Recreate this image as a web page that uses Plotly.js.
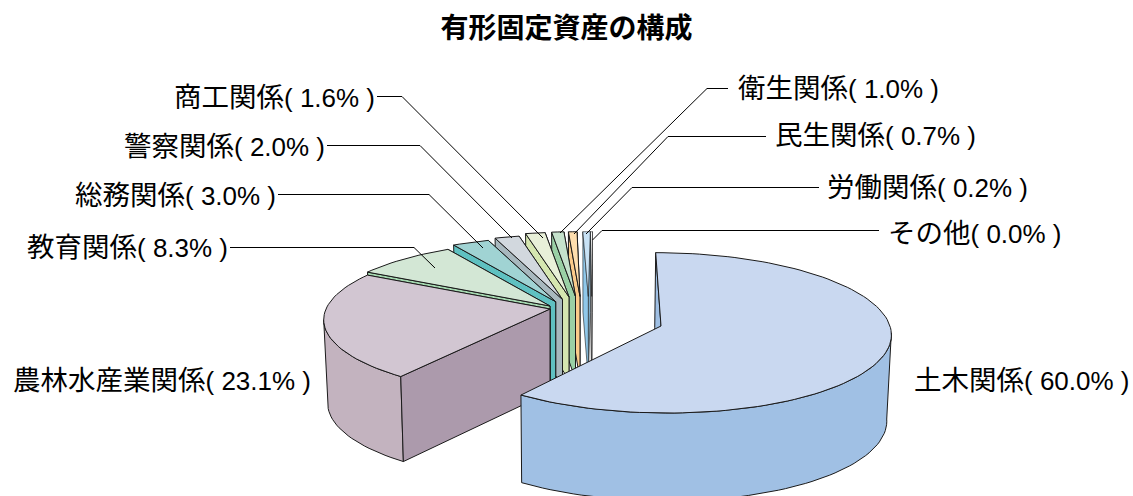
<!DOCTYPE html>
<html><head><meta charset="utf-8">
<script src="https://cdn.plot.ly/plotly-3.0.1.min.js"></script>
<style>html,body{margin:0;padding:0;background:#fff}#c{width:1133px;height:496px}</style>
</head><body><div id="c"></div>
<script>
// ---- data ----
const categories = ['土木関係','農林水産業関係','教育関係','総務関係','警察関係','商工関係','衛生関係','民生関係','労働関係','その他'];
const shares     = [60.0, 23.1, 8.3, 3.0, 2.0, 1.6, 1.0, 0.7, 0.2, 0.04];
const shareText  = ['60.0%','23.1%','8.3%','3.0%','2.0%','1.6%','1.0%','0.7%','0.2%','0.0%'];
// ---- styles ----
const topColors  = ['#C9D8F0','#D2C6D2','#D3E7D5','#A0D3D3','#D2D8DE','#E8F0D8','#C5E2CC','#FFDFAE','#C8E2F5','#FFFFFF'];
const sideColors = ['#A0C0E4','#AC9AAC','#A5D8B0','#5FC1C1','#A8B8BE','#D5E6B0','#9AD0A5','#FBCB8A','#90C8EA','#FFFFFF'];
const rimColor   = '#C3B3BF';
const lineColor  = '#1a1a1a';
const edgeWidth  = [1,1,1,1,1,1,1,1,0.6,0.6];
// ---- 3D pie projection (pixel layout of the tilted pie) ----
const base = {cx:550, cy:309, R:224, Q:74, k:0.1425, shear:0, hMid:83, hBack:2.5, hFront:2.5, shrinkL:0.0175, shrinkR:0.0175};
const big  = {cx:661, cy:326, R:229, Q:79.6, k:0.0855, shear:-5.75, hMid:86, hBack:11, hFront:2, shrinkL:0.005, shrinkR:0.02};
const offX = [0,0,0,5.7,12.5,19,25.5,30,38.3,41.7];
const offY = [0,0,-3,-7.3,-9.5,-12,-12.5,-12.5,-12.5,-12.5];
const widen = [0,0,0,0,0,0,0,0,2.5,0.8];
// ---- labels ----
const labelX = [912,313,230,278,327,377,736,773,825,886];
const labelY = [380,380,247,195,146,97,88,135,187,233];
const labelAnchor = ['left','right','right','right','right','right','left','left','left','left'];
const leaderX = [null,null,[230,414,435],[278,429,483],[327,420,512],[377,402,543],[728,707,560],[766,668,574],[819,632,586],[879,602,592.5]];
const leaderY = [null,null,[247.5,247.5,268],[194.5,194.5,248],[145.5,145.5,238],[96.5,96.5,238],[88.5,88.5,233],[136.5,136.5,234],[187.5,187.5,234],[230.5,230.5,240]];
const labelFont = 'Arial, "Liberation Sans", "Noto Sans CJK JP", sans-serif';

function project(g, thetaDeg, dx, dy){
  const t = thetaDeg*Math.PI/180, s = Math.sin(t), c = Math.cos(t), d = 1+g.k*c;
  return {x: g.cx + dx + (g.R*s + g.shear*c)/d, y: g.cy + dy - g.Q*c/d, c};
}
function drop(g, p, dx){          // same point on the pie's lower face
  const ax = g.cx + dx;
  const sh = p.x > ax ? g.shrinkR : g.shrinkL;
  return {x: p.x + (ax-p.x)*sh - (g===big&&p.c>0?1.0*p.c:0), y: p.y + g.hMid - (p.c>0?g.hBack:g.hFront)*p.c};
}
function poly(pts, fill, w){
  return {type:'scatter', mode:'lines', x:pts.map(p=>p.x).concat(pts[0].x), y:pts.map(p=>p.y).concat(pts[0].y),
    fill:'toself', fillcolor:fill, line:{color:lineColor,width:w}, hoverinfo:'skip', showlegend:false};
}
function arcPoints(g, a0, a1, dx, dy){
  const n = Math.max(2, Math.ceil((a1-a0)/2)), pts = [];
  for(let j=0;j<=n;j++) pts.push(project(g, a0+(a1-a0)*j/n, dx, dy));
  return pts;
}
const total = shares.reduce((a,b)=>a+b,0);
const starts = []; let run = 0;
shares.forEach(v=>{ starts.push(run/total*360); run += v; });

const traces = [];
function addSlice(i){
  const g = i===0 ? big : base, dx = i===0?0:offX[i], dy = i===0?0:offY[i], w = edgeWidth[i];
  const a0 = starts[i], a1 = starts[i]+shares[i]/total*360;
  const arc = arcPoints(g, a0, a1, dx, dy);
  if(widen[i]){ arc[0].x -= widen[i]; arc[arc.length-1].x += widen[i]; }
  const apex = {x:g.cx+dx, y:g.cy+dy, c:0};
  const apexB = drop(g, apex, dx);
  // outer wall: only the part that faces the viewer
  const silhouette = Math.asin(g.k)*180/Math.PI;
  const v0 = Math.max(a0, 90+silhouette), v1 = Math.min(a1, 270-silhouette);
  if(v1 > v0){
    const vis = arcPoints(g, v0, v1, dx, dy);
    traces.push(poly(vis.concat(vis.map(p=>drop(g,p,dx)).reverse()), i===1?rimColor:sideColors[i], w));
  }
  // radial walls
  const startEdge = arc[0], endEdge = arc[arc.length-1];
  if(i===0){
    traces.push(poly([startEdge, drop(g,startEdge,dx), apexB, apex], sideColors[i], w));
  } else {
    traces.push(poly([endEdge, drop(g,endEdge,dx), apexB, apex], sideColors[i], w));
    traces.push(poly([startEdge, drop(g,startEdge,dx), apexB, apex], sideColors[i], w));
  }
  // top face
  traces.push(poly([apex].concat(arc), topColors[i], w));
}
for(let i=categories.length-1;i>=0;i--) addSlice(i);

leaderX.forEach((lx,i)=>{
  if(!lx) return;
  traces.push({type:'scatter',mode:'lines',x:lx,y:leaderY[i],line:{color:'#000',width:1},hoverinfo:'skip',showlegend:false});
});

const annotations = categories.map((c,i)=>({
  xref:'x',yref:'y',x:labelX[i],y:labelY[i],xanchor:labelAnchor[i],yanchor:'middle',showarrow:false,
  text:'<span style="font-size:27.5px">'+c+'</span>( '+shareText[i]+' )',font:{family:labelFont,size:26,color:'#000'}
}));

Plotly.newPlot('c',traces,{
  width:1133,height:496,margin:{l:0,r:0,t:0,b:0},paper_bgcolor:'#fff',plot_bgcolor:'#fff',showlegend:false,
  title:{text:'<b>有形固定資産の構成</b>',x:0.5,xanchor:'center',y:1-28/496,yanchor:'middle',font:{family:labelFont,size:28,color:'#000'}},
  xaxis:{visible:false,range:[0,1133],fixedrange:true},
  yaxis:{visible:false,range:[496,0],fixedrange:true},
  annotations
},{staticPlot:true,displayModeBar:false});
</script></body></html>
